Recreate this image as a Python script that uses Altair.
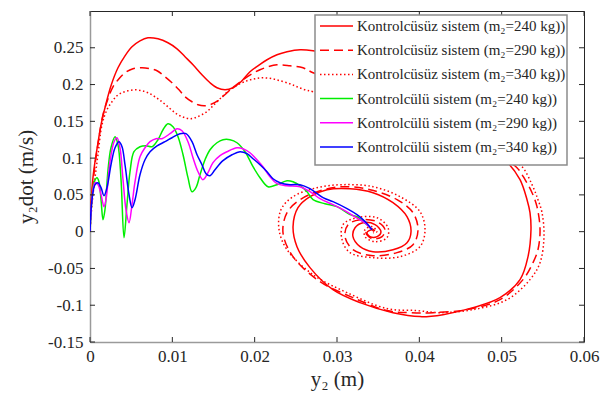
import altair as alt
import pandas as pd

# ---------------- data ----------------
x_ticks = [0, 0.01, 0.02, 0.03, 0.04, 0.05, 0.06]
y_ticks = [-0.15, -0.1, -0.05, 0, 0.05, 0.1, 0.15, 0.2, 0.25]

series_names = [
    "Kontrolcüsüz sistem (m₂=240 kg))",
    "Kontrolcüsüz sistem (m₂=290 kg))",
    "Kontrolcüsüz sistem (m₂=340 kg))",
    "Kontrolcülü sistem (m₂=240 kg))",
    "Kontrolcülü sistem (m₂=290 kg))",
    "Kontrolcülü sistem (m₂=340 kg))",
]

unc240_x = [0, 0.00012, 0.00036, 0.00061, 0.00097, 0.00134, 0.00182, 0.00255, 0.0034, 0.00425,
            0.0051, 0.00607, 0.00704, 0.00826, 0.00947, 0.01057, 0.01154, 0.01251, 0.0136, 0.01458,
            0.01542, 0.0164, 0.01737, 0.01834, 0.01943, 0.0204, 0.0215, 0.02271, 0.02393, 0.02551,
            0.02709, 0.02976, 0.03401, 0.04008, 0.04615, 0.04919, 0.05065, 0.05223, 0.05308, 0.05344,
            0.05356, 0.0532, 0.05223, 0.0498, 0.04652, 0.04287, 0.04008, 0.0368, 0.0328, 0.02951,
            0.02672, 0.02514, 0.02466, 0.02526, 0.02672, 0.02879, 0.03158, 0.03437, 0.0368, 0.0385,
            0.03899, 0.0385, 0.0368, 0.03437, 0.0328, 0.03194, 0.03219, 0.03316, 0.03462, 0.03534,
            0.03486, 0.03401, 0.03364, 0.03425, 0.03449]
unc240_y = [0, 0.0367, 0.0734, 0.0951, 0.1209, 0.1454, 0.1685, 0.1984, 0.2228, 0.2391,
            0.2514, 0.2595, 0.2636, 0.2622, 0.2568, 0.2486, 0.2378, 0.2269, 0.2133, 0.2024,
            0.1957, 0.1929, 0.1957, 0.2038, 0.2174, 0.2255, 0.2337, 0.2405, 0.2446, 0.2473,
            0.2459, 0.2391, 0.2174, 0.1793, 0.1318, 0.1087, 0.0951, 0.0707, 0.0435, 0.0258,
            0.0027, -0.034, -0.0652, -0.0897, -0.1033, -0.1128, -0.1155, -0.1101, -0.0965, -0.0788,
            -0.0489, -0.0204, 0.0068, 0.0326, 0.0476, 0.0571, 0.0584, 0.053, 0.0394, 0.0204,
            0, -0.0149, -0.0245, -0.0272, -0.0204, -0.0068, 0.0054, 0.0122, 0.0095, 0,
            -0.0068, -0.0068, -0.0014, 0.0027, 0]

unc290_x = [0, 0.00024, 0.00061, 0.00109, 0.00158, 0.00219, 0.00279, 0.00352, 0.00425, 0.00522,
            0.00632, 0.00729, 0.00814, 0.00911, 0.00996, 0.01081, 0.01154, 0.01239, 0.01312, 0.01385,
            0.01458, 0.01555, 0.01664, 0.01761, 0.01858, 0.01968, 0.02065, 0.02162, 0.02271, 0.02429,
            0.02587, 0.02709, 0.03037, 0.03522, 0.0413, 0.04737, 0.05041, 0.05186, 0.05284, 0.05369,
            0.05429, 0.05466, 0.05441, 0.05381, 0.05259, 0.0498, 0.04579, 0.04166, 0.03887, 0.03607,
            0.03194, 0.02794, 0.02466, 0.02344, 0.02393, 0.02551, 0.02794, 0.03073, 0.03401, 0.03729,
            0.03923, 0.03984, 0.03923, 0.03729, 0.03437, 0.03194, 0.03097, 0.03134, 0.0328, 0.03486,
            0.03583, 0.03547, 0.03425, 0.03352, 0.03401, 0.03462]
unc290_y = [0, 0.0503, 0.091, 0.1277, 0.159, 0.1807, 0.197, 0.2079, 0.216, 0.2215,
            0.2228, 0.2215, 0.2188, 0.2106, 0.2024, 0.1929, 0.1834, 0.1766, 0.1726, 0.1712,
            0.1726, 0.178, 0.1889, 0.1984, 0.2065, 0.2147, 0.2201, 0.2242, 0.2269, 0.2255,
            0.2228, 0.216, 0.2038, 0.1793, 0.1454, 0.1141, 0.0978, 0.087, 0.0707, 0.053,
            0.034, 0.0027, -0.0245, -0.0421, -0.0652, -0.0924, -0.106, -0.1101, -0.1101, -0.1073,
            -0.0897, -0.0679, -0.034, -0.0014, 0.0258, 0.0435, 0.0557, 0.0611, 0.0571, 0.0435,
            0.0258, 0.0027, -0.0177, -0.0285, -0.0326, -0.0245, -0.0068, 0.0095, 0.0163, 0.0136,
            0.0027, -0.0068, -0.0095, -0.0014, 0.0041, 0.0014]

unc340_x = [0, 0.00024, 0.00061, 0.00097, 0.00146, 0.00206, 0.00267, 0.00328, 0.00389, 0.00462,
            0.00547, 0.00632, 0.00704, 0.00789, 0.00874, 0.0096, 0.01032, 0.01093, 0.01154, 0.01215,
            0.01275, 0.0136, 0.01433, 0.01494, 0.01579, 0.017, 0.01798, 0.01907, 0.02004, 0.02101,
            0.02211, 0.02308, 0.02429, 0.02514, 0.02611, 0.02709, 0.03037, 0.03522, 0.0413, 0.04737,
            0.05101, 0.05247, 0.05369, 0.05441, 0.0549, 0.05514, 0.05466, 0.05344, 0.05065, 0.04652,
            0.04251, 0.03972, 0.03607, 0.03122, 0.02709, 0.02393, 0.02296, 0.0232, 0.02466, 0.02757,
            0.03073, 0.03437, 0.03765, 0.04008, 0.04069, 0.04008, 0.03765, 0.03437, 0.03158, 0.03061,
            0.03073, 0.03243, 0.03486, 0.0362, 0.03607, 0.03462, 0.0334, 0.0334, 0.03425, 0.03486,
            0.03437]
unc340_y = [0, 0.0367, 0.0734, 0.1046, 0.1454, 0.1658, 0.1766, 0.1848, 0.1889, 0.1916,
            0.1929, 0.1916, 0.1889, 0.1834, 0.1766, 0.1685, 0.1617, 0.1576, 0.1549, 0.1535,
            0.1549, 0.159, 0.1644, 0.1712, 0.1807, 0.1929, 0.1997, 0.2052, 0.2079, 0.2092,
            0.2079, 0.2052, 0.2011, 0.197, 0.1929, 0.1902, 0.1793, 0.159, 0.1359, 0.1141,
            0.0978, 0.0883, 0.0639, 0.0435, 0.0258, -0.0068, -0.0421, -0.0652, -0.0924, -0.106,
            -0.1101, -0.1073, -0.1046, -0.0829, -0.0584, -0.0245, 0.0027, 0.0299, 0.0476, 0.0598,
            0.0639, 0.0611, 0.0476, 0.0272, 0.0027, -0.0204, -0.034, -0.0353, -0.0285, -0.0109,
            0.0095, 0.019, 0.019, 0.0054, -0.0082, -0.0136, -0.0068, 0.0027, 0.0068, 0,
            -0.0014]

con240_x = [0, 0.00024, 0.00049, 0.00085, 0.00109, 0.00134, 0.00158, 0.00182, 0.00219, 0.00255,
            0.00304, 0.0034, 0.00377, 0.00413, 0.00449, 0.00486, 0.00534, 0.00607, 0.0068, 0.00753,
            0.00826, 0.00887, 0.00947, 0.01008, 0.01069, 0.0113, 0.0119, 0.01239, 0.01287, 0.01336,
            0.01397, 0.01458, 0.01542, 0.01615, 0.017, 0.01785, 0.01883, 0.0198, 0.02065, 0.02162,
            0.02271, 0.02393, 0.02466, 0.02551, 0.02636, 0.02709, 0.02854, 0.03, 0.03158, 0.03243,
            0.03316, 0.03364, 0.03425]
con240_y = [0, 0.0435, 0.0666, 0.0734, 0.0679, 0.0435, 0.0163, 0.0299, 0.0842, 0.1141,
            0.1291, 0.1182, 0.0707, -0.0082, 0.0367, 0.0815, 0.1087, 0.1155, 0.1168, 0.1155,
            0.125, 0.1386, 0.1467, 0.1427, 0.1291, 0.1046, 0.0734, 0.0543, 0.0598, 0.0774,
            0.0978, 0.1114, 0.1209, 0.125, 0.125, 0.1209, 0.1087, 0.0883, 0.0734, 0.0611,
            0.0639, 0.0693, 0.0679, 0.0625, 0.0543, 0.0435, 0.038, 0.034, 0.0231, 0.0204,
            0.0136, 0.0095, 0.0027]

con290_x = [0, 0.00024, 0.00061, 0.00097, 0.00134, 0.0017, 0.00194, 0.00243, 0.00292, 0.00328,
            0.00364, 0.00401, 0.00437, 0.00474, 0.0051, 0.00547, 0.00607, 0.00668, 0.00729, 0.00802,
            0.00874, 0.00972, 0.01057, 0.01117, 0.0119, 0.01251, 0.01312, 0.01372, 0.01433, 0.01494,
            0.01579, 0.01664, 0.01785, 0.01858, 0.01943, 0.02028, 0.02101, 0.02186, 0.02271, 0.02393,
            0.02551, 0.02672, 0.02794, 0.02951, 0.03073, 0.03194, 0.03316, 0.03377, 0.03425]
con290_y = [0, 0.0435, 0.0666, 0.0639, 0.0503, 0.034, 0.0435, 0.0951, 0.1223, 0.1277,
            0.1141, 0.0707, 0.0299, 0.0122, 0.0367, 0.0679, 0.1019, 0.1141, 0.1223, 0.1264,
            0.1264, 0.1332, 0.1399, 0.1372, 0.1223, 0.1005, 0.0815, 0.0707, 0.0802, 0.0938,
            0.1033, 0.1087, 0.1141, 0.1128, 0.1073, 0.0978, 0.0883, 0.0747, 0.0652, 0.0625,
            0.0611, 0.0543, 0.0448, 0.0367, 0.0299, 0.0217, 0.0136, 0.0082, 0.0027]

con340_x = [0, 0.00024, 0.00061, 0.00097, 0.00134, 0.0017, 0.00206, 0.00255, 0.00304, 0.00352,
            0.00389, 0.00425, 0.00474, 0.0051, 0.00547, 0.00607, 0.00668, 0.00729, 0.00814, 0.00911,
            0.00996, 0.01093, 0.01166, 0.01239, 0.013, 0.0136, 0.01409, 0.01458, 0.01518, 0.01615,
            0.01725, 0.01822, 0.01907, 0.0198, 0.02065, 0.0215, 0.02223, 0.02308, 0.02429, 0.02551,
            0.02672, 0.0283, 0.02951, 0.03122, 0.03243, 0.03316, 0.03377, 0.03425]
con340_y = [0, 0.0435, 0.0639, 0.0666, 0.0598, 0.0489, 0.0598, 0.091, 0.1141, 0.1223,
            0.1155, 0.091, 0.0503, 0.0326, 0.0435, 0.0774, 0.0978, 0.1087, 0.1168, 0.1223,
            0.1277, 0.1332, 0.1332, 0.1223, 0.1046, 0.091, 0.0788, 0.0761, 0.0842, 0.0965,
            0.1046, 0.1087, 0.106, 0.0992, 0.091, 0.0815, 0.072, 0.0666, 0.0639, 0.0639,
            0.0584, 0.0462, 0.0408, 0.0313, 0.0231, 0.0163, 0.0095, 0.0027]

series_x = [unc240_x, unc290_x, unc340_x, con240_x, con290_x, con340_x]
series_y = [unc240_y, unc290_y, unc340_y, con240_y, con290_y, con340_y]

# ---------------- styles ----------------
colors = ["#ff0000", "#ff0000", "#ff0000", "#00ee00", "#ff00ff", "#0000ff"]
dashes = [None, [9, 5], [1.5, 2.5], None, None, None]

W, H = 494, 331
FONT = "Liberation Serif"
TXT = "#262626"

xscale = alt.Scale(domain=[0, 0.06], nice=False, zero=False)
yscale = alt.Scale(domain=[-0.15, 0.3], nice=False, zero=False)

minus_fix = "datum.value < 0 ? '-' + format(-datum.value, '~g') : format(datum.value, '~g')"

xaxis = alt.Axis(values=x_ticks, ticks=False, grid=False, labelExpr=minus_fix,
                 labelFont=FONT, labelFontSize=17, labelColor=TXT, labelPadding=6,
                 labelFlush=False, labelOverlap=False,
                 domainColor="#9a9a9a", domainWidth=1.5,
                 title="y₂ (m)", titleFont=FONT, titleFontSize=21, titleFontWeight="normal",
                 titleColor=TXT, titlePadding=4)
yaxis = alt.Axis(values=y_ticks, ticks=False, grid=False, labelExpr=minus_fix,
                 labelFont=FONT, labelFontSize=17, labelColor=TXT, labelPadding=7,
                 labelFlush=False, labelOverlap=False,
                 domainColor="#9a9a9a", domainWidth=1.5,
                 title="y₂dot (m/s)", titleFont=FONT, titleFontSize=21, titleFontWeight="normal",
                 titleColor=TXT, titlePadding=11)


def X(field):
    return alt.X(field, type="quantitative", scale=xscale, axis=xaxis)


def Y(field):
    return alt.Y(field, type="quantitative", scale=yscale, axis=yaxis)


layers = []
for name, xs, ys, col, dash in zip(series_names, series_x, series_y, colors, dashes):
    df = pd.DataFrame({"x": xs, "y": ys, "i": list(range(len(xs)))})
    kw = dict(color=col, strokeWidth=1.5, interpolate="catmull-rom", clip=True)
    if dash is not None:
        kw["strokeDash"] = dash
    layers.append(
        alt.Chart(df).mark_line(**kw).encode(x=X("x"), y=Y("y"), order="i:Q")
    )

# inward tick marks (MATLAB box style)
xt = pd.DataFrame({"x": x_ticks})
yt = pd.DataFrame({"y": y_ticks})
TL = 5
layers.append(alt.Chart(xt).mark_rule(color=TXT, strokeWidth=1).encode(
    x=X("x"), y=alt.value(H), y2=alt.value(H - TL)))
layers.append(alt.Chart(xt).mark_rule(color=TXT, strokeWidth=1).encode(
    x=X("x"), y=alt.value(0), y2=alt.value(TL)))
layers.append(alt.Chart(yt).mark_rule(color=TXT, strokeWidth=1).encode(
    y=Y("y"), x=alt.value(0), x2=alt.value(TL)))
layers.append(alt.Chart(yt).mark_rule(color=TXT, strokeWidth=1).encode(
    y=Y("y"), x=alt.value(W), x2=alt.value(W - TL)))

# legend (drawn inside the plot, top-right)
LX0, LX1, LY0, LY1 = 225, 477, 4, 154
one = pd.DataFrame({"k": [0]})
layers.append(alt.Chart(one).mark_rect(fill="white", stroke="#8c8c8c", strokeWidth=1.5).encode(
    x=alt.value(LX0), x2=alt.value(LX1), y=alt.value(LY0), y2=alt.value(LY1)))
for k, (name, col, dash) in enumerate(zip(series_names, colors, dashes)):
    ry = 15 + 24.2 * k
    kw = dict(color=col, strokeWidth=1.5)
    if dash is not None:
        kw["strokeDash"] = dash
    layers.append(alt.Chart(one).mark_rule(**kw).encode(
        x=alt.value(230), x2=alt.value(263), y=alt.value(ry)))
    layers.append(alt.Chart(pd.DataFrame({"t": [name]})).mark_text(
        align="left", baseline="middle", font=FONT, fontSize=15, color=TXT).encode(
        x=alt.value(267), y=alt.value(ry), text="t:N"))

chart = alt.layer(*layers).properties(
    width=W, height=H,
    padding={"left": 90, "top": 11, "right": 19, "bottom": 59},
    autosize=alt.AutoSizeParams(type="none"),
    background="white",
).configure_view(stroke="#262626", strokeWidth=1)

chart.save("out.html", embed_options={"renderer": "svg", "actions": False})
